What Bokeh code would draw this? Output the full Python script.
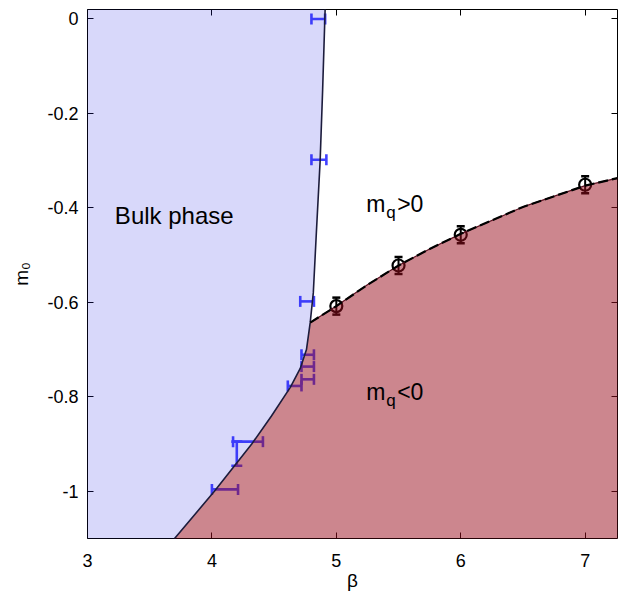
from bokeh.plotting import figure
from bokeh.models import Range1d, LinearAxis, ColumnDataSource, Whisker, TeeHead, FixedTicker
from bokeh.core.properties import value
from bokeh.embed import file_html
from bokeh.resources import INLINE

# ---------------- data ----------------
x_min, x_max = 3.0, 7.26
y_min, y_max = -1.1, 0.02

x_ticks = [3, 4, 5, 6, 7]
y_ticks = [-1.0, -0.8, -0.6, -0.4, -0.2, 0.0]
y_tick_labels = ["-1", "-0.8", "-0.6", "-0.4", "-0.2", "0"]

# bulk-phase boundary (beta as function of m0)
bulk_m0 = [-1.1, -1.0, -0.9, -0.84, -0.78, -0.74, -0.70, -0.643, -0.58, -0.45, -0.30, -0.15, 0.02]
bulk_beta = [3.70, 4.02, 4.32, 4.48, 4.63, 4.71, 4.76, 4.79, 4.815, 4.84, 4.87, 4.89, 4.91]

# critical line m_q = 0
crit_beta = [4.79, 5.0, 5.25, 5.5, 5.75, 6.0, 6.5, 7.0, 7.26]
crit_m0 = [-0.643, -0.608, -0.563, -0.522, -0.487, -0.455, -0.398, -0.353, -0.337]

# critical points with errors
pt_beta = [5.0, 5.5, 6.0, 7.0]
pt_m0 = [-0.608, -0.522, -0.457, -0.351]
pt_err = [0.018, 0.018, 0.018, 0.018]

# bulk transition horizontal error bars
bar_m0 = [0.0, -0.298, -0.598, -0.711, -0.736, -0.763, -0.777, -0.895, -0.996]
bar_lo = [4.80, 4.80, 4.71, 4.72, 4.72, 4.72, 4.61, 4.17, 4.00]
bar_hi = [4.91, 4.92, 4.82, 4.82, 4.82, 4.82, 4.72, 4.41, 4.21]

# vertical error bar
vbar_beta = [4.20]
vbar_lo = [-0.946]
vbar_hi = [-0.895]

FONT = "Liberation Sans"

p = figure(width=618, height=594, x_range=Range1d(x_min, x_max), y_range=Range1d(y_min, y_max),
           output_backend="svg", toolbar_location=None,
           min_border_left=87, min_border_right=1, min_border_top=9, min_border_bottom=56,
           background_fill_color="white", border_fill_color="white")
p.outline_line_color = None
p.xgrid.visible = False
p.ygrid.visible = False

def style_axis(ax, ticks, labels=True):
    ax.ticker = FixedTicker(ticks=ticks)
    ax.axis_line_color = "black"
    ax.axis_line_width = 1
    ax.major_tick_in = 6
    ax.major_tick_out = 0
    ax.major_tick_line_color = "black"
    ax.minor_tick_line_color = None
    ax.major_label_text_font = FONT
    ax.major_label_text_font_size = "18px"
    ax.major_label_text_color = "black"
    ax.axis_label_text_font = FONT
    ax.axis_label_text_font_size = "19px"
    ax.axis_label_text_font_style = "normal"
    ax.axis_label_text_color = "black"
    if not labels:
        ax.major_label_overrides = {t: "" for t in ticks}
        ax.major_label_standoff = 0

xa = p.xaxis[0]
style_axis(xa, x_ticks)
xa.major_label_standoff = 15
xa.axis_label = "β"
xa.axis_label_standoff = 0

ya = p.yaxis[0]
style_axis(ya, y_ticks)
ya.major_label_overrides = {t: l for t, l in zip(y_ticks, y_tick_labels)}
ya.major_label_standoff = 9
ya.axis_label = "m₀"
ya.axis_label_standoff = 12

top = LinearAxis()
style_axis(top, x_ticks, labels=False)
p.add_layout(top, "above")
right = LinearAxis()
style_axis(right, y_ticks, labels=False)
p.add_layout(right, "right")

# error bars (below the shaded phase regions)
bars = ColumnDataSource(dict(m0=bar_m0, lo=bar_lo, hi=bar_hi))
BAR = "#4242ff"
p.add_layout(Whisker(source=bars, base="m0", lower="lo", upper="hi", dimension="width",
                     line_color=BAR, line_width=2.6, level="annotation",
                     upper_head=TeeHead(size=11, line_color=BAR, line_width=2.6),
                     lower_head=TeeHead(size=11, line_color=BAR, line_width=2.6)))
vb = ColumnDataSource(dict(b=vbar_beta, lo=vbar_lo, hi=vbar_hi))
p.add_layout(Whisker(source=vb, base="b", lower="lo", upper="hi", dimension="height",
                     line_color=BAR, line_width=2.6, level="annotation",
                     upper_head=TeeHead(size=11, line_color=BAR, line_width=2.6),
                     lower_head=TeeHead(size=11, line_color=BAR, line_width=2.6)))

pts = ColumnDataSource(dict(b=pt_beta, m=pt_m0,
                            lo=[m - e for m, e in zip(pt_m0, pt_err)],
                            hi=[m + e for m, e in zip(pt_m0, pt_err)]))
p.add_layout(Whisker(source=pts, base="b", lower="lo", upper="hi", dimension="height",
                     line_color="black", line_width=2, level="annotation",
                     upper_head=TeeHead(size=8, line_color="black", line_width=2.5),
                     lower_head=TeeHead(size=8, line_color="black", line_width=2.5)))
p.scatter("b", "m", source=pts, marker="circle", size=12, fill_color=None,
          line_color="black", line_width=2.2)

# shaded regions (drawn on top, translucent)
blue_x = [x_min] + bulk_beta + [x_min]
blue_y = [y_min] + bulk_m0 + [y_max]
p.patch(blue_x, blue_y, fill_color="#2828e6", fill_alpha=0.18, line_color=None, level="overlay")

n_c = bulk_m0.index(crit_m0[0])
red_x = crit_beta + [x_max] + bulk_beta[:n_c + 1]
red_y = crit_m0 + [y_min] + bulk_m0[:n_c + 1]
p.patch(red_x, red_y, fill_color="#990d1d", fill_alpha=0.5, line_color=None, level="overlay")

p.line(bulk_beta, bulk_m0, line_color="#1c1c3c", line_width=1.6, level="overlay")
p.line(crit_beta, crit_m0, line_color="#5a1020", line_width=1.2, level="overlay")
p.line(crit_beta, crit_m0, line_color="black", line_width=2.2, line_dash="10 4", level="overlay")

# texts
p.text(x=[3.22], y=[-0.4165], text=["Bulk phase"], text_font=value(FONT),
       text_font_size="24px", text_color="black", text_baseline="alphabetic", level="overlay")
for yb, rel in ((-0.392, ">0"), (-0.79, "<0")):
    p.text(x=[5.24], y=[yb], text=["m"], text_font=value(FONT), text_font_size="23px",
           text_color="black", text_baseline="alphabetic", level="overlay")
    p.text(x=[5.24], y=[yb], text=["q"], text_font=value(FONT), text_font_size="17px",
           x_offset=20, y_offset=8,
           text_color="black", text_baseline="alphabetic", level="overlay")
    p.text(x=[5.24], y=[yb], text=[rel], text_font=value(FONT), text_font_size="23px",
           x_offset=31,
           text_color="black", text_baseline="alphabetic", level="overlay")

open("out.html", "w").write(file_html(p, INLINE))
